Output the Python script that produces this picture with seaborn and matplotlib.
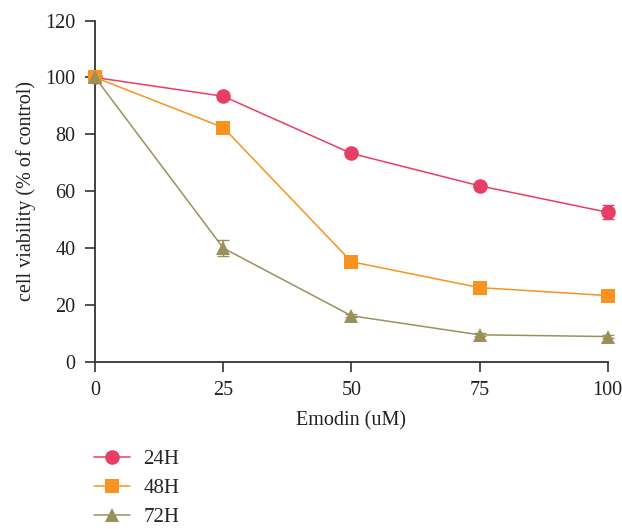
import matplotlib
matplotlib.use("Agg")
import matplotlib.pyplot as plt
import seaborn as sns
import pandas as pd

# Emodin dose (uM) and viability (% of control) per exposure time
doses = [0, 25, 50, 75, 100]
viab_24h = [100, 93.4, 73.3, 61.9, 52.6]
viab_48h = [100, 82.4, 35.2, 26.1, 23.3]
viab_72h = [100, 40.0, 16.2, 9.5, 8.9]
sd_24h = [0.5, 0.8, 0.8, 0.8, 2.4]
sd_48h = [0.5, 0.8, 0.8, 0.6, 0.6]
sd_72h = [0.5, 2.7, 0.6, 0.5, 0.5]
groups = ["24H", "48H", "72H"]

colors = {"24H": "#E83D65", "48H": "#F7931E", "72H": "#9A915A"}
markers = {"24H": "o", "48H": "s", "72H": "^"}

rows = []
for g, vals, sds in zip(groups, [viab_24h, viab_48h, viab_72h], [sd_24h, sd_48h, sd_72h]):
    for d, v, s in zip(doses, vals, sds):
        rows.append({"dose": d, "viability": v, "sd": s, "group": g})
df = pd.DataFrame(rows)

sns.set_theme(style="ticks")
plt.rcParams["font.family"] = ["Liberation Serif", "DejaVu Serif"]

fig = plt.figure(figsize=(6.22, 5.29), dpi=100)
ax = fig.add_axes([0.153, 0.316, 0.824, 0.645])

for g in groups:
    sub = df[df["group"] == g]
    ax.errorbar(sub["dose"], sub["viability"], yerr=sub["sd"], fmt="none",
                ecolor=colors[g], elinewidth=1.0, capsize=4, capthick=1.0,
                zorder=2, clip_on=False)

sns.lineplot(data=df, x="dose", y="viability", hue="group", style="group",
             palette=colors, markers=markers, dashes=False, markersize=10.5,
             markeredgewidth=0, linewidth=1.1, ax=ax, legend=False,
             clip_on=False, zorder=3)

ax.set_xlim(0, 100)
ax.set_ylim(0, 120)
ax.set_xticks(doses)
ax.set_yticks(range(0, 121, 20))
ax.tick_params(axis="both", labelsize=14.5, length=7, width=1.2, color="#333333",
               labelcolor="#222222", direction="out")
ax.tick_params(axis="x", pad=7)
ax.tick_params(axis="y", pad=7)
for side in ["left", "bottom"]:
    ax.spines[side].set_linewidth(1.3)
    ax.spines[side].set_color("#333333")
sns.despine(ax=ax)
ax.set_xlabel("Emodin (uM)", fontsize=14.5, color="#222222", labelpad=8)
ax.set_ylabel("cell viability (% of control)", fontsize=14.5, color="#222222", labelpad=7)

handles = [plt.Line2D([], [], color=colors[g], marker=markers[g], markersize=10.5,
                      markeredgewidth=0, linewidth=1.1) for g in groups]
fig.legend(handles, groups, loc="upper left", bbox_to_anchor=(0.151, 0.15),
           frameon=False, fontsize=15, handlelength=1.75, labelspacing=0.45,
           handletextpad=0.62, borderaxespad=0, borderpad=0)

fig.savefig("out.png", dpi=100)
